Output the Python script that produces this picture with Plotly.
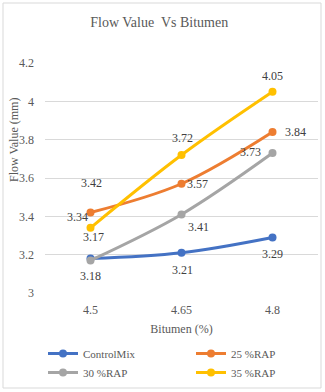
import plotly.graph_objects as go

# Bitumen content (%) on the category axis
bitumen = ["4.5", "4.65", "4.8"]

# Flow value (mm) for each mix
control_mix = [3.18, 3.21, 3.29]
rap_25 = [3.42, 3.57, 3.84]
rap_30 = [3.17, 3.41, 3.73]
rap_35 = [3.34, 3.72, 4.05]

series_names = ["ControlMix", "25 %RAP", "30 %RAP", "35 %RAP"]
series_values = [control_mix, rap_25, rap_30, rap_35]
series_colors = ["#4472C4", "#ED7D31", "#A5A5A5", "#FFC000"]
series_legends = ["legend", "legend2", "legend", "legend2"]

# pixel offsets of each value label from its point (dx right, dy down)
label_offsets = [
    [(0, 17), (1, 17), (0, 17)],
    [(1, -30), (16, 0), (23, 0)],
    [(3, -23), (17, 13), (-22, -1)],
    [(-13, -11), (1, -17), (0, -16)],
]

FONT = "Liberation Serif"

# plot area in pixels
L, T, W, H = 45, 63, 273, 230


def px_x(x):
    return (x - L) / W


def px_y(y):
    return (T + H - y) / H


fig = go.Figure()
for name, vals, color, lg in zip(series_names, series_values, series_colors, series_legends):
    fig.add_trace(go.Scatter(
        x=bitumen, y=vals, name=name, legend=lg,
        mode="lines+markers",
        line=dict(color=color, width=3, shape="spline", smoothing=1),
        marker=dict(color=color, size=8),
    ))

# value labels (annotations on a category axis use the category's serial index)
for vals, offs in zip(series_values, label_offsets):
    for idx, (v, (dx, dy)) in enumerate(zip(vals, offs)):
        fig.add_annotation(x=idx, y=v, text=f"{v:.2f}", showarrow=False,
                           xanchor="center", yanchor="middle",
                           xshift=dx, yshift=-dy,
                           font=dict(family=FONT, size=12, color="#404040"))

legend_common = dict(orientation="v", yanchor="top", xanchor="left",
                     itemwidth=30, tracegroupgap=0, bgcolor="rgba(0,0,0,0)",
                     font=dict(family=FONT, size=11, color="#595959"))

fig.update_layout(
    width=325, height=392,
    margin=dict(l=L, r=325 - L - W, t=T, b=392 - T - H, autoexpand=False),
    paper_bgcolor="white", plot_bgcolor="white",
    font=dict(family=FONT, size=12, color="#595959"),
    title=dict(text="Flow Value  Vs Bitumen", x=0.49, xanchor="center",
               y=1 - 22 / 392, yanchor="middle",
               font=dict(family=FONT, size=14, color="#595959")),
    xaxis=dict(type="category", categoryorder="array", categoryarray=bitumen,
               range=[-0.5, 2.5], showgrid=False,
               showline=False, zeroline=False, ticks="",
               ticklabelstandoff=8,
               tickfont=dict(family=FONT, size=12, color="#595959"),
               title=dict(text="Bitumen (%)", standoff=8,
                          font=dict(family=FONT, size=12, color="#595959"))),
    yaxis=dict(range=[3, 4.2], dtick=0.2, showgrid=True, gridcolor="#D9D9D9",
               gridwidth=1, zeroline=False, showline=False, ticks="",
               tickformat="~g", ticklabelstandoff=10,
               tickfont=dict(family=FONT, size=12, color="#595959")),
    legend=dict(x=px_x(43), y=px_y(339), **legend_common),
    legend2=dict(x=px_x(191), y=px_y(339), **legend_common),
    showlegend=True,
)

# y-axis title placed beside the tick labels
fig.add_annotation(text="Flow Value (mm)", textangle=-90, xref="paper", yref="paper",
                   x=px_x(14), y=px_y(140), xanchor="center", yanchor="middle",
                   showarrow=False,
                   font=dict(family=FONT, size=12, color="#595959"))

# chart area border
fig.add_shape(type="rect", xref="paper", yref="paper",
              x0=px_x(3), x1=px_x(321), y0=px_y(388), y1=px_y(3),
              line=dict(color="#D9D9D9", width=1), fillcolor="rgba(0,0,0,0)", layer="below")

fig.write_html("out.html")
